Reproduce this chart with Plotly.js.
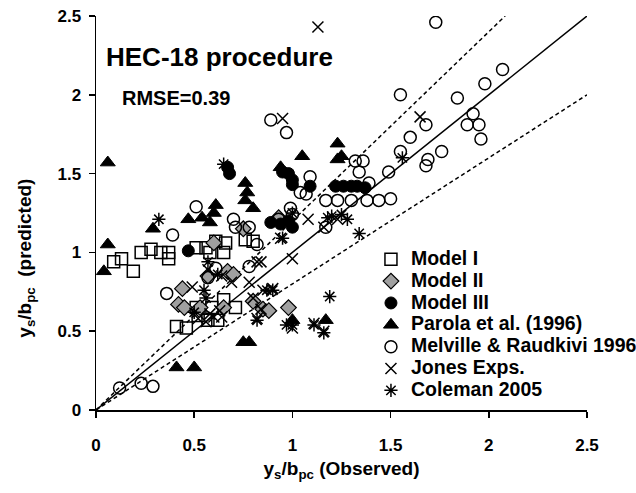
<!DOCTYPE html>
<html>
<head>
<meta charset="utf-8">
<script src="https://cdn.plot.ly/plotly-3.0.1.min.js"></script>
<style>html,body{margin:0;padding:0;background:#fff;}#chart{width:636px;height:493px;}</style>
</head>
<body>
<div id="chart"></div>
<script>
// ---- data (observed x, predicted y) ----
const model1X = [0.09,0.13,0.19,0.23,0.28,0.33,0.37,0.37,0.51,0.56,0.58,0.61,0.66,0.65,0.76,0.80,0.41,0.46,0.51,0.52,0.59,0.65,0.71,0.57,0.62];
const model1Y = [0.94,0.96,0.88,1.00,1.02,1.00,1.00,0.96,1.03,1.03,1.00,1.07,1.06,1.00,1.08,1.07,0.53,0.52,0.65,0.60,0.65,0.70,0.65,0.57,0.57];

const model2X = [0.44,0.42,0.45,0.53,0.65,0.67,0.70,0.60,0.75,0.80,0.85,0.98,0.93,0.57,0.88];
const model2Y = [0.77,0.67,0.65,0.65,0.65,0.88,0.86,1.06,1.15,0.69,0.64,0.65,1.22,0.85,0.63];

const model3X = [0.47,0.67,0.68,0.89,0.94,0.98,1.00,0.98,1.00,1.00,1.09,1.22,1.26,1.30,1.33,1.37,0.95];
const model3Y = [1.01,1.54,1.50,1.19,1.18,1.20,1.16,1.50,1.46,1.43,1.42,1.42,1.42,1.42,1.42,1.41,1.51];

const parolaX = [0.06,0.06,0.04,0.29,0.47,0.54,0.58,0.61,0.60,0.76,0.77,0.76,0.80,0.94,1.05,1.23,1.23,1.25,0.41,0.50,0.75,0.78,1.00,1.17];
const parolaY = [1.57,1.05,0.88,1.15,1.21,1.22,1.19,1.30,1.25,1.44,1.38,1.33,1.28,1.54,1.61,1.59,1.69,1.61,0.27,0.27,0.43,0.43,0.57,0.57];

const melvilleX = [0.12,0.23,0.29,0.36,0.39,0.51,0.57,0.61,0.70,0.71,0.78,0.78,0.82,0.89,0.97,0.93,0.99,1.00,1.04,1.07,1.09,1.17,1.17,1.23,1.30,1.38,1.44,1.50,1.32,1.36,1.34,1.39,1.49,1.55,1.60,1.55,1.68,1.69,1.76,1.68,1.73,1.84,1.89,1.95,1.96,1.92,1.98,2.07];
const melvilleY = [0.14,0.17,0.15,0.74,1.11,1.29,0.84,0.90,1.21,1.16,1.16,0.91,1.05,1.84,1.76,1.21,1.28,1.24,1.38,1.37,1.48,1.16,1.33,1.33,1.33,1.33,1.33,1.34,1.58,1.58,1.51,1.44,1.51,1.64,1.73,2.00,1.55,1.59,1.64,1.81,2.46,1.98,1.81,1.81,1.72,1.88,2.07,2.16];

const jonesX = [1.13,0.95,1.65,1.08,0.94,0.84,1.00,1.16,1.23,0.82,0.80,0.84,0.58,0.63,0.56,0.52,0.57,0.64,0.69,0.78,0.85,0.90,0.82,0.60,0.64,1.00,1.11,1.16,0.49];
const jonesY = [2.43,1.85,1.86,1.21,1.09,0.94,0.96,1.16,1.21,0.94,0.71,0.64,0.61,0.63,0.56,0.58,0.89,0.85,0.81,0.81,0.76,0.77,0.58,0.59,0.59,0.52,0.55,0.50,0.78];

const colemanX = [0.32,0.65,0.56,0.57,0.62,0.82,0.87,0.90,0.95,0.97,1.00,1.11,1.16,1.19,1.00,1.20,1.28,1.34,1.18,1.25,1.56,0.55,0.50];
const colemanY = [1.21,1.56,0.71,0.94,0.86,0.57,0.76,0.76,1.09,0.54,0.54,0.54,0.49,0.72,1.25,1.23,1.21,1.12,1.22,1.24,1.60,0.76,0.62];

// reference lines (perfect agreement and +/-20 % bands)
const perfectX = [0, 2.5],   perfectY = [0, 2.5];
const upperX   = [0, 2.0833], upperY  = [0, 2.5];
const lowerX   = [0, 2.5],   lowerY   = [0, 2.0];

const xTicks = [0, 0.5, 1, 1.5, 2, 2.5];
const yTicks = [0, 0.5, 1, 1.5, 2, 2.5];
const xTickText = ['0','0.5','1','1.5','2','2.5'];
const yTickText = ['0','0.5','1','1.5','2','2.5'];

const FONT = 'Liberation Sans, Arial, sans-serif';
const LEG = s => '<span style="font-size:19.5px">' + s + '</span>';

function lineTrace(x, y, dash){
  return {x:x, y:y, mode:'lines', type:'scatter', showlegend:false, hoverinfo:'skip',
          line:{color:'#000', width:1.5, dash:dash}};
}
function pts(name, x, y, marker){
  return {x:x, y:y, name:LEG(name), mode:'markers', type:'scatter', marker:marker};
}

const data = [
  lineTrace(perfectX, perfectY, 'solid'),
  lineTrace(upperX, upperY, '4px,3px'),
  lineTrace(lowerX, lowerY, '4px,3px'),
  pts('Model I', model1X, model1Y, {symbol:'square-open', size:12, color:'#000', line:{width:1.5}}),
  pts('Model II', model2X, model2Y, {symbol:'diamond', size:12, color:'#a0a0a0', line:{color:'#000', width:1.2}}),
  pts('Model III', model3X, model3Y, {symbol:'circle', size:12, color:'#000', line:{color:'#000', width:1}}),
  pts('Parola et al. (1996)', parolaX, parolaY, {symbol:'triangle-up', size:13, color:'#000', line:{color:'#000', width:1}}),
  pts('Melville &amp; Raudkivi 1996', melvilleX, melvilleY, {symbol:'circle-open', size:12, color:'#000', line:{width:1.5}}),
  pts('Jones Exps.', jonesX, jonesY, {symbol:'x-thin-open', size:11, color:'#000', line:{color:'#000', width:1.5}}),
  pts('Coleman 2005', colemanX, colemanY, {symbol:'asterisk-open', size:11, color:'#000', line:{color:'#000', width:1.5}})
];

const axisCommon = {
  range:[0,2.5], showgrid:false, zeroline:false, showline:true, linecolor:'#000', linewidth:1.5,
  ticks:'outside', ticklen:6, tickwidth:1.5, tickcolor:'#000',
  tickfont:{family:FONT, size:17, color:'#000', weight:'bold'}, fixedrange:true
};

const layout = {
  width:636, height:493,
  margin:{l:96, r:49, t:16, b:83, autoexpand:false},
  paper_bgcolor:'#fff', plot_bgcolor:'#fff',
  font:{family:FONT, color:'#000'},
  showlegend:true,
  legend:{x:0.56, y:0.423, xanchor:'left', yanchor:'top', bgcolor:'rgba(0,0,0,0)',
          font:{family:FONT, size:14.5, color:'#000', weight:'bold'}, tracegroupgap:0, itemwidth:30},
  xaxis:Object.assign({}, axisCommon, {tickvals:xTicks, ticktext:xTickText, ticklabelstandoff:13,
    title:{text:'y<sub>s</sub>/b<sub>pc</sub> (Observed)', font:{family:FONT, size:19, color:'#000', weight:'bold'}, standoff:8}}),
  yaxis:Object.assign({}, axisCommon, {tickvals:yTicks, ticktext:yTickText, ticklabelstandoff:4}),
  annotations:[
    {text:'HEC-18 procedure', xref:'paper', yref:'paper', x:0.016, y:0.895, xanchor:'left', yanchor:'middle',
     showarrow:false, font:{family:FONT, size:26, color:'#000', weight:'bold'}},
    {text:'RMSE=0.39', xref:'paper', yref:'paper', x:0.049, y:0.792, xanchor:'left', yanchor:'middle',
     showarrow:false, font:{family:FONT, size:20, color:'#000', weight:'bold'}},
    {text:'y<sub>s</sub>/b<sub>pc</sub>  (predicted)', xref:'paper', yref:'paper', x:-0.143, y:0.386,
     xanchor:'center', yanchor:'middle', textangle:-90, showarrow:false,
     font:{family:FONT, size:19, color:'#000', weight:'bold'}}
  ]
};

Plotly.newPlot('chart', data, layout, {displayModeBar:false, staticPlot:true});
</script>
</body>
</html>
